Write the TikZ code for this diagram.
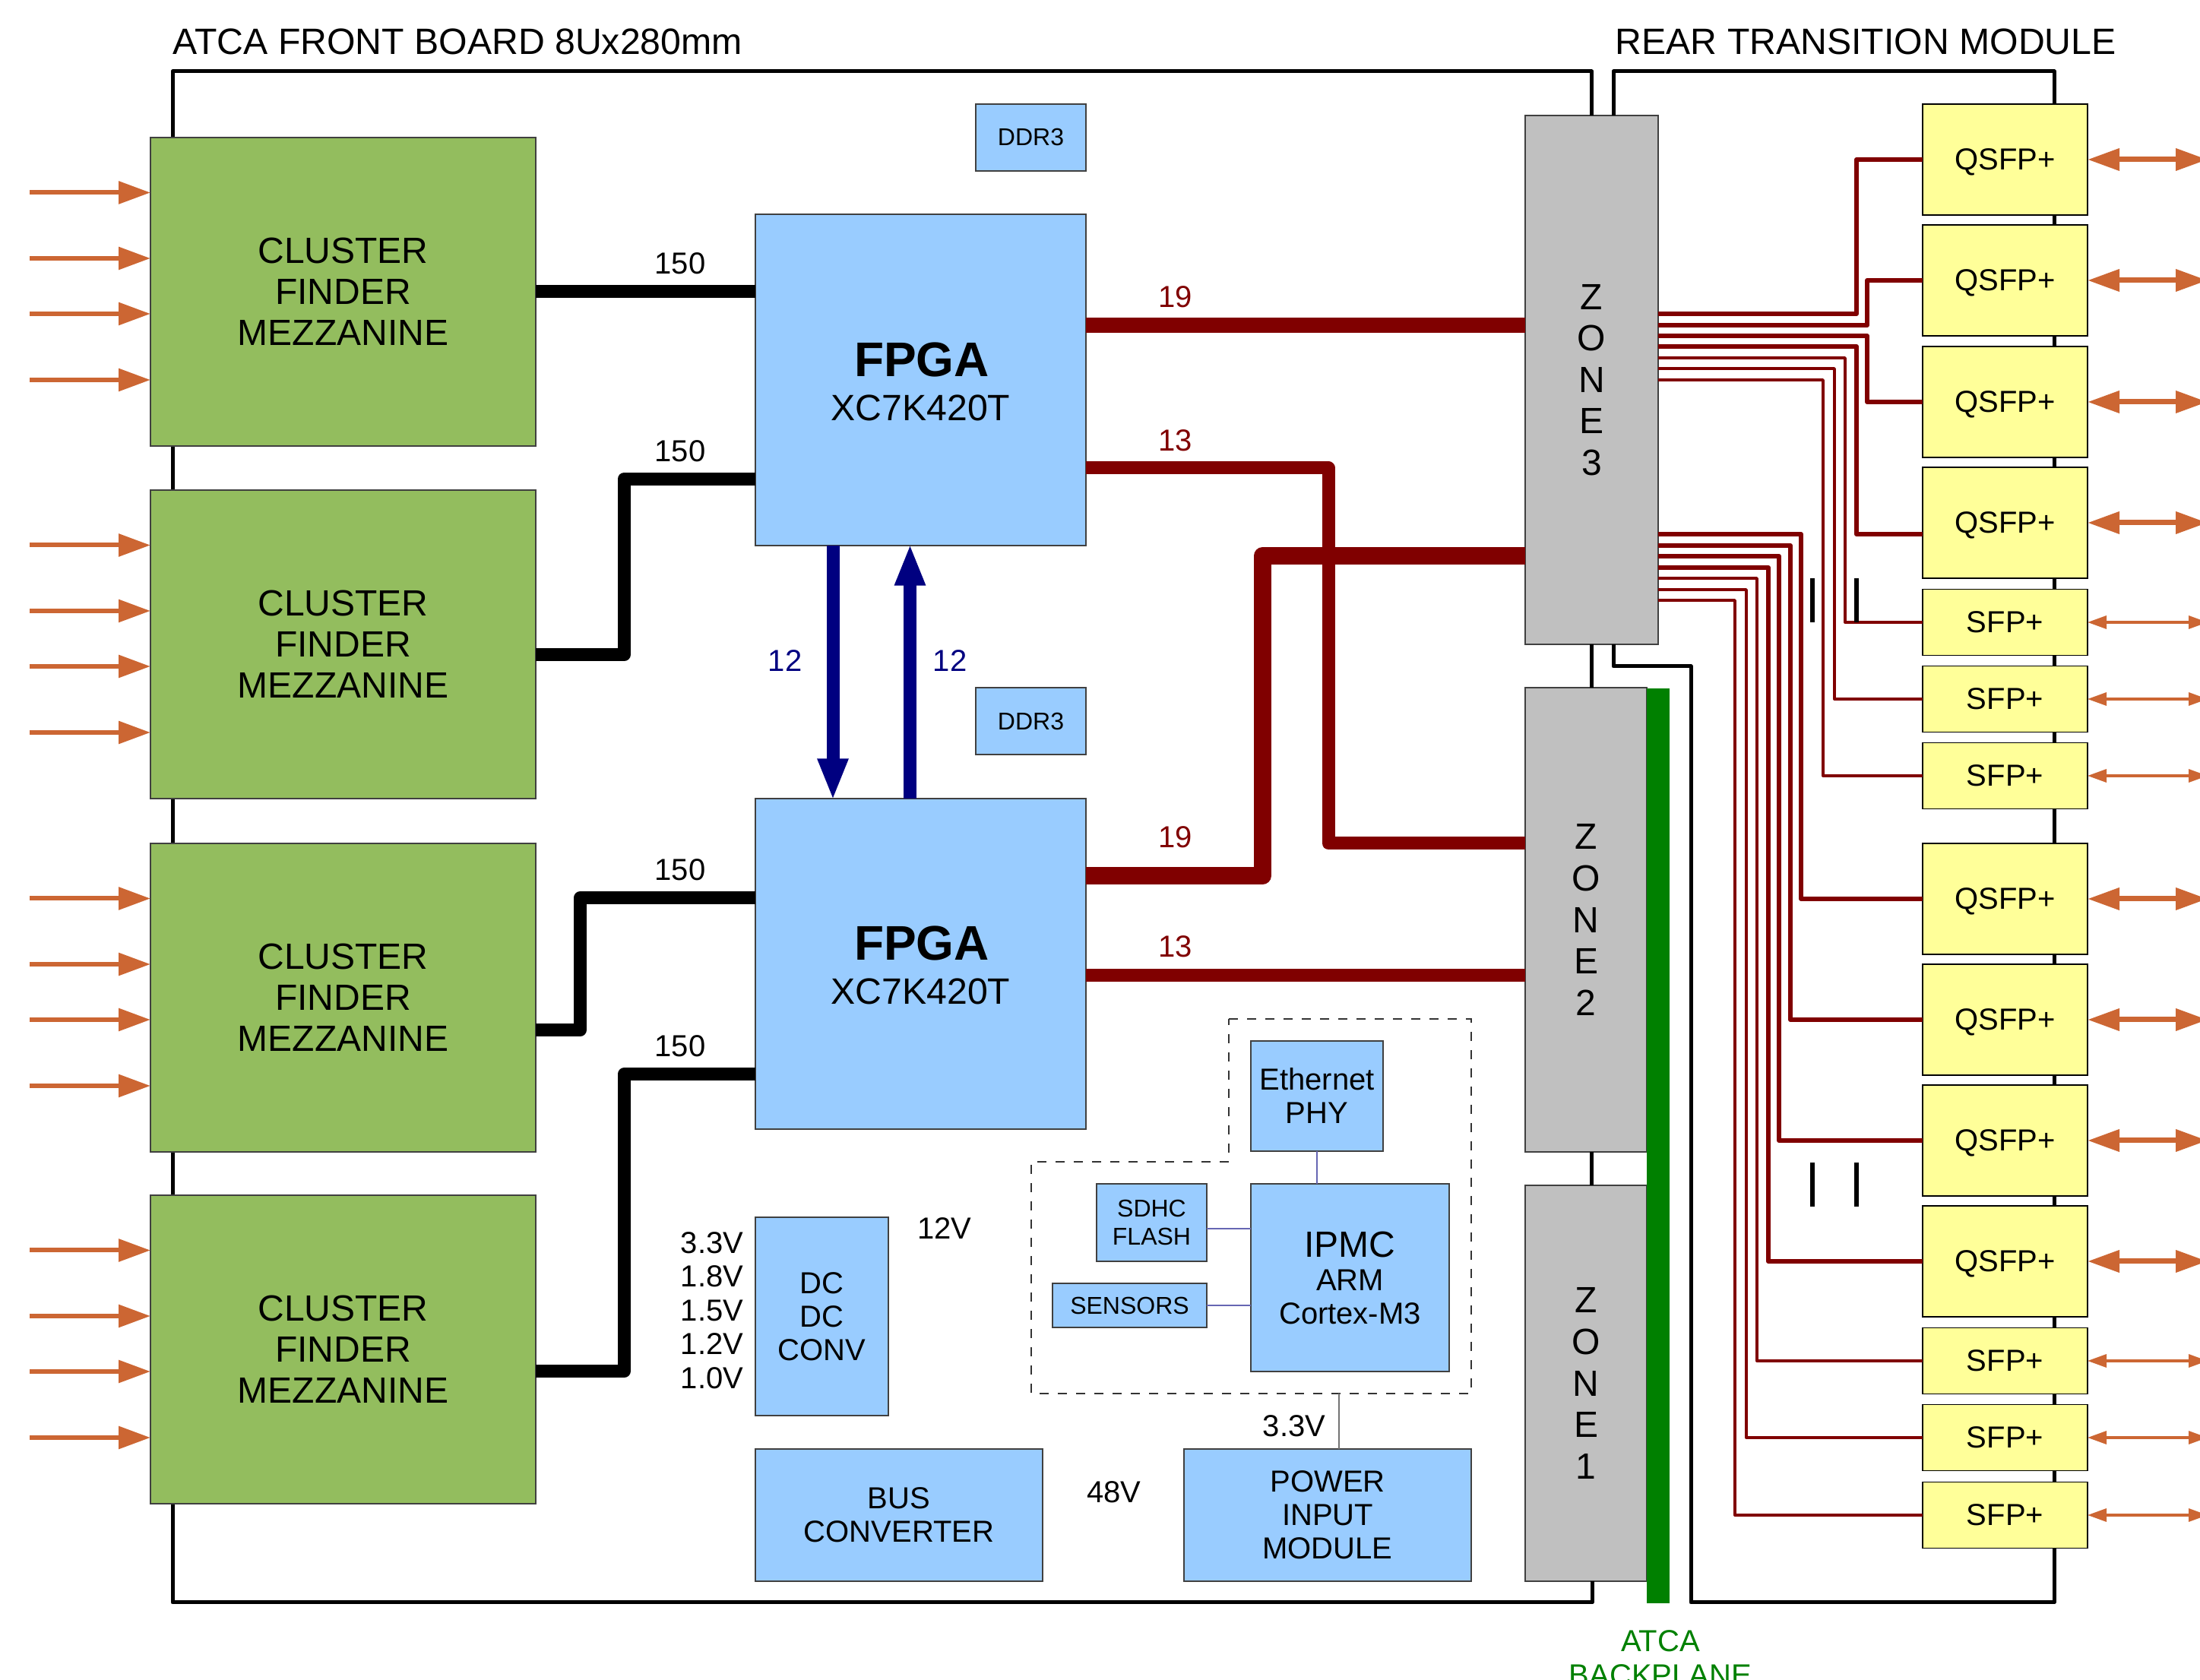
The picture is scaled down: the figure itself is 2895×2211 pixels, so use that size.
\documentclass[tikz,border=0pt]{standalone}
\usepackage{fontspec}
\setmainfont{Liberation Sans}
\usetikzlibrary{arrows.meta,calc}
\definecolor{cfmezz}{HTML}{93BD5E}
\definecolor{cfblue}{HTML}{99CCFF}
\definecolor{cfyel}{HTML}{FFFF99}
\definecolor{cfzone}{HTML}{C0C0C0}
\definecolor{cfgreen}{HTML}{008000}
\definecolor{cfred}{HTML}{800000}
\definecolor{cfnavy}{HTML}{000080}
\definecolor{cfarrow}{HTML}{CC6633}
\definecolor{cfipmc}{HTML}{6666B3}
\tikzset{
  sz/.style 2 args={minimum width=#1*0.25pt,minimum height=#2*0.25pt},
  blk/.style={draw=black!75,line width=0.3pt,inner sep=0pt,outer sep=0pt,align=center},
  mezz/.style={blk,fill=cfmezz,font=\fontsize{12}{13.5}\selectfont},
  ic/.style={blk,fill=cfblue,font=\fontsize{10}{11}\selectfont},
  small/.style={blk,fill=cfblue,font=\fontsize{8}{9.25}\selectfont},
  cage/.style={blk,draw=black,fill=cfyel,font=\fontsize{10}{11}\selectfont},
  zone/.style={blk,fill=cfzone,font=\fontsize{12}{13.5}\selectfont},
  lab/.style={font=\fontsize{10}{11}\selectfont,inner sep=0pt},
  title/.style={font=\fontsize{12.05}{13.5}\selectfont,inner sep=0pt,anchor=west},
  board/.style={line width=1.25pt,line join=round},
  wire/.style={line width=4.25pt,line join=round,draw=black},
  link/.style={line join=round,draw=cfred},
  fibin/.style={-{Triangle[length=10.5pt,width=7.25pt]},line width=1.5pt,draw=cfarrow},
  qio/.style={{Triangle[length=10.5pt,width=7pt]}-{Triangle[length=10.5pt,width=7pt]},line width=1.75pt,draw=cfarrow},
  sio/.style={{Triangle[length=6.25pt,width=4.25pt]}-{Triangle[length=6.25pt,width=4.25pt]},line width=0.85pt,draw=cfarrow},
  xlink/.style={-{Triangle[length=13.75pt,width=9.25pt]},line width=4.25pt,draw=cfnavy,shorten >=-0.6pt},
}

\begin{document}
\begin{tikzpicture}[x=0.25pt,y=-0.25pt]
  \useasboundingbox (0,0) rectangle (2895,2211);

  % ---------- titles ----------
  \node[title] (tfront) at (227,55) {ATCA FRONT BOARD 8Ux280mm};
  \node[title] (trear) at (2125,55) {REAR TRANSITION MODULE};

  % ---------- zones and backplane ----------
  \node[zone,sz={175}{696}] (zone3) at (2094.5,500) {Z\\[0.15pt]O\\[0.15pt]N\\[0.15pt]E\\[0.15pt]3};
  \node[zone,sz={160}{611}] (zone2) at (2087,1210.5) {Z\\[0.15pt]O\\[0.15pt]N\\[0.15pt]E\\[0.15pt]2};
  \node[zone,sz={160}{521}] (zone1) at (2087,1820.5) {Z\\[0.15pt]O\\[0.15pt]N\\[0.15pt]E\\[0.15pt]1};
  \node[fill=cfgreen,inner sep=0pt,outer sep=0pt,sz={30}{1204}] (bplane) at (2182,1508) {};
  \node[font=\fontsize{10}{11.25}\selectfont,text=cfgreen,align=center,inner sep=0pt,anchor=north] (tbplane) at (2185,2145) {ATCA\\BACKPLANE};

  % ---------- board outlines (behind the blocks) ----------
  \coordinate (fnw) at (227,94);
  \coordinate (fsw) at (227,2109);
  \coordinate (fse) at (2095,2109);
  \coordinate (rnw) at (2123,94);
  \coordinate (rne) at (2703,94);
  \coordinate (rse) at (2703,2109);
  \coordinate (rsw) at (2225,2109);
  \coordinate (rkn) at (2225,877);
  \draw[board] (zone3.north) -- (zone3.north |- fnw) -- (fnw) -- (fsw) -- (fse) -- (fse |- zone1.south);
  \draw[board] (zone3.south) -- (zone3.south |- zone2.north);
  \draw[board] (zone3.south |- zone2.south) -- (zone3.south |- zone1.north);
  \draw[board] (zone3.north -| rnw) -- (rnw) -- (rne) -- (rse) -- (rsw) -- (rkn) -- (rkn -| rnw) -- (zone3.south -| rnw);

  % ---------- mezzanines with their inputs ----------
  \foreach \i/\y in {1/181,2/645,3/1110,4/1573}{
    \node[mezz,sz={507}{406}] (mezz\i) at (451.5,\y+203) {CLUSTER\\FINDER\\MEZZANINE};
    \foreach \j/\d in {1/72.5,2/159,3/232,4/319}{
      \coordinate (in\i\j) at (39,\y+\d);
      \draw[fibin] (in\i\j) -- (mezz\i.west |- in\i\j);
    }
  }

  % ---------- FPGAs and memories ----------
  \node[ic,sz={435}{436}] (fpga1) at (1211.5,500) {};
  \node[font=\fontsize{16}{18}\selectfont\bfseries,inner sep=0pt] (fname1) at (1213,473) {FPGA};
  \node[font=\fontsize{12.05}{14}\selectfont,inner sep=0pt] (fpart1) at (1211.5,537) {XC7K420T};
  \node[ic,sz={435}{435}] (fpga2) at (1211.5,1268.5) {};
  \node[font=\fontsize{16}{18}\selectfont\bfseries,inner sep=0pt] (fname2) at (1213,1241) {FPGA};
  \node[font=\fontsize{12.05}{14}\selectfont,inner sep=0pt] (fpart2) at (1211.5,1305) {XC7K420T};
  \node[small,sz={145}{88}] (ddr1) at (1356.5,181) {DDR3};
  \node[small,sz={145}{88}] (ddr2) at (1356.5,949) {DDR3};

  % ---------- power ----------
  \node[ic,sz={175}{261}] (dcdc) at (1081.5,1732.5) {DC\\DC\\CONV};
  \node[ic,sz={378}{174}] (bus) at (1183,1994) {BUS\\CONVERTER};
  \node[ic,sz={378}{174}] (pim) at (1747,1994) {POWER\\INPUT\\MODULE};
  \node[lab,align=right,anchor=east] (rails) at (979,1724.5) {3.3V\\[0.1pt]1.8V\\[0.1pt]1.5V\\[0.1pt]1.2V\\[0.1pt]1.0V};
  \node[lab] (v12) at (1243,1617) {12V};
  \node[lab] (v48) at (1466,1964) {48V};
  \node[lab] (v33) at (1703,1877) {3.3V};

  % ---------- IPMC group ----------
  \coordinate (ga) at (1617,1341);
  \coordinate (gb) at (1936,1341);
  \coordinate (gc) at (1936,1834);
  \coordinate (gd) at (1357,1834);
  \coordinate (ge) at (1357,1529);
  \coordinate (gf) at (1617,1529);
  \coordinate (gp) at (1762,1834);
  \draw[dashed,line width=0.3pt,draw=black!80] (ga) -- (gb) -- (gc) -- (gd) -- (ge) -- (gf) -- cycle;
  \node[ic,sz={174}{145}] (eth) at (1733,1442.5) {Ethernet\\PHY};
  \node[ic,sz={261}{247}] (ipmc) at (1776.5,1681.5) {{\fontsize{12}{12.5}\selectfont IPMC}\\ARM\\Cortex-M3};
  \node[small,sz={145}{102}] (sdhc) at (1515.5,1609) {SDHC\\FLASH};
  \node[small,sz={203}{58}] (sens) at (1486.5,1718) {SENSORS};
  \draw[cfipmc,line width=0.3pt] (eth) -- (eth |- ipmc.north);
  \draw[cfipmc,line width=0.3pt] (sdhc.east |- 0,1617) -- (ipmc.west |- 0,1617);
  \draw[cfipmc,line width=0.3pt] (sens) -- (ipmc.west |- sens);
  \draw[black!55,line width=0.3pt] (gp) -- (gp |- pim.north);

  % ---------- rear cages ----------
  \foreach \n/\y in {1/210,2/369,3/529,4/688,5/1183,6/1342,7/1501,8/1660}{
    \node[cage,sz={217}{146},text height=7pt,text depth=0pt] (qsfp\n) at (2638.5,\y) {QSFP+};
    \coordinate (qout\n) at (2905,\y);
    \draw[qio] (qsfp\n.east) -- (qout\n);
  }
  \foreach \n/\y in {1/819,2/920,3/1021,4/1791,5/1892,6/1994}{
    \node[cage,sz={217}{87}] (sfp\n) at (2638.5,\y) {SFP+};
    \coordinate (sout\n) at (2905,\y);
    \draw[sio] (sfp\n.east) -- (sout\n);
  }

  % ---------- mezzanine to FPGA ----------
  \draw[wire] (mezz1.east |- 0,384) -- (fpga1.west |- 0,384);
  \draw[wire] (mezz2.east |- 0,862) -- (821,862) -- (821,630.5) -- (fpga1.west |- 0,630.5);
  \draw[wire] (mezz3.east |- 0,1356) -- (763,1356) -- (763,1182) -- (fpga2.west |- 0,1182);
  \draw[wire] (mezz4.east |- 0,1805) -- (821,1805) -- (821,1414) -- (fpga2.west |- 0,1414);
  \node[lab] (w1) at (895,347) {150};
  \node[lab] (w2) at (895,594) {150};
  \node[lab] (w3) at (895,1145) {150};
  \node[lab] (w4) at (895,1377) {150};

  % ---------- FPGA to FPGA ----------
  \draw[xlink] (fpga1.south -| 1096,0) -- (fpga2.north -| 1096,0);
  \draw[xlink] (fpga2.north -| 1197.5,0) -- (fpga1.south -| 1197.5,0);
  \node[lab,text=cfnavy] (x1) at (1033,870) {12};
  \node[lab,text=cfnavy] (x2) at (1250,870) {12};

  % ---------- FPGA to zones ----------
  \draw[link,line width=5pt] (fpga1.east |- 0,428) -- (zone3.west |- 0,428);
  \draw[link,line width=4.25pt] (fpga1.east |- 0,616) -- (1748,616) -- (1748,1110) -- (zone2.west |- 0,1110);
  \draw[link,line width=5.75pt] (fpga2.east |- 0,1153) -- (1661,1153) -- (1661,732) -- (zone3.west |- 0,732);
  \draw[link,line width=4.25pt] (fpga2.east |- 0,1283.5) -- (zone2.west |- 0,1283.5);
  \node[lab,text=cfred] (r1) at (1546.5,391) {19};
  \node[lab,text=cfred] (r2) at (1546.5,580) {13};
  \node[lab,text=cfred] (r3) at (1546.5,1102) {19};
  \node[lab,text=cfred] (r4) at (1546.5,1246) {13};

  % ---------- zone 3 to cages (from y, over x, to e) ----------
  \foreach \t/\y/\x/\e in {qsfp1/413/2443/210,qsfp2/428/2457/369,qsfp3/442/2457/529,qsfp4/456/2443/703,
                           qsfp5/703/2370/1183,qsfp6/718/2356/1342,qsfp7/732/2341/1501,qsfp8/747/2327/1660}
    {\draw[link,line width=1.5pt] (zone3.east |- 0,\y) -- (\x,\y) -- (\x,\e) -- (\t.west |- 0,\e);}
  \foreach \t/\y/\x/\e in {sfp1/471/2428/819,sfp2/485/2414/920,sfp3/500/2399/1021,
                           sfp4/761/2312/1791,sfp5/776/2298/1892,sfp6/790/2283/1994}
    {\draw[link,line width=0.85pt] (zone3.east |- 0,\y) -- (\x,\y) -- (\x,\e) -- (\t.west |- 0,\e);}

  % ---------- break marks ----------
  \foreach \x/\y/\m in {2385/761/a,2443/761/b,2385/1530/c,2443/1530/d}{
    \coordinate (brk\m) at (\x,\y);
    \draw[line width=1.5pt] (brk\m) -- ++(0,58);
  }
\end{tikzpicture}
\end{document}
